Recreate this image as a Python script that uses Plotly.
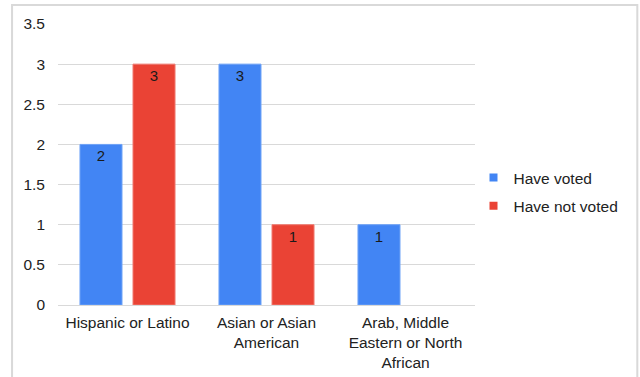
import plotly.graph_objects as go

# Survey counts by group
categories = ["Hispanic or Latino", "Asian or Asian<br>American",
              "Arab, Middle<br>Eastern or North<br>African"]
series_names = ["Have voted", "Have not voted"]
have_voted = [2, 3, 1]
have_not_voted = [3, 1, None]
y_ticks = [0, 0.5, 1, 1.5, 2, 2.5, 3, 3.5]

blue, red = "#4285f4", "#ea4335"

W, H = 640, 377
ML, MR, MT, MB = 58, 164.5, 24, 72
PW, PH = W - ML - MR, H - MT - MB

font = dict(family="Liberation Sans, Arial, sans-serif", size=15.5, color="#222222")

fig = go.Figure()
for name, vals, col, edge in [(series_names[0], have_voted, blue, "#6fa3f7"),
                              (series_names[1], have_not_voted, red, "#f07a70")]:
    fig.add_trace(go.Bar(
        name=name, x=categories, y=vals, showlegend=False,
        marker=dict(color=col, line=dict(color=edge, width=1)),
        text=[str(v) if v is not None else "" for v in vals],
        textposition="inside", insidetextanchor="end",
        textfont=dict(color="#1a1a1a", size=15),
    ))
    # small square key for the legend
    fig.add_trace(go.Scatter(
        name=name, x=[None], y=[None], mode="markers",
        marker=dict(symbol="square", size=8, color=col),
        legendgroup=name, showlegend=True, hoverinfo="skip",
    ))

# light frame around the whole chart
def px_x(p):
    return (p - ML) / PW

def px_y(p):
    return (H - MB - p) / PH

fig.add_shape(type="rect", xref="paper", yref="paper",
              x0=px_x(12), x1=px_x(638), y0=px_y(400), y1=px_y(5),
              line=dict(color="#d9d9d9", width=2), fillcolor="rgba(0,0,0,0)",
              layer="below")

fig.update_layout(
    width=W, height=H,
    margin=dict(l=ML, r=MR, t=MT, b=MB, pad=0, autoexpand=False),
    paper_bgcolor="white", plot_bgcolor="white",
    font=font,
    barmode="group", bargap=0.237, bargroupgap=0.2075,
    showlegend=True,
    legend=dict(x=px_x(474), y=px_y(161), xanchor="left", yanchor="top",
                font=dict(size=15.5, color="#222222"),
                bgcolor="rgba(0,0,0,0)", tracegroupgap=5,
                itemwidth=30),
    xaxis=dict(showgrid=False, showline=False, ticks="", tickfont=font,
               ticklabelstandoff=6, automargin=False),
    yaxis=dict(range=[0, 3.5], tickvals=y_ticks,
               ticktext=[f"{v:g}" for v in y_ticks],
               showgrid=True, gridcolor="#d9d9d9", gridwidth=1.3,
               zeroline=True, zerolinecolor="#d9d9d9", zerolinewidth=1.3,
               showline=False, ticks="", tickfont=font,
               ticklabelstandoff=12, automargin=False),
)

fig.write_html("out.html")
